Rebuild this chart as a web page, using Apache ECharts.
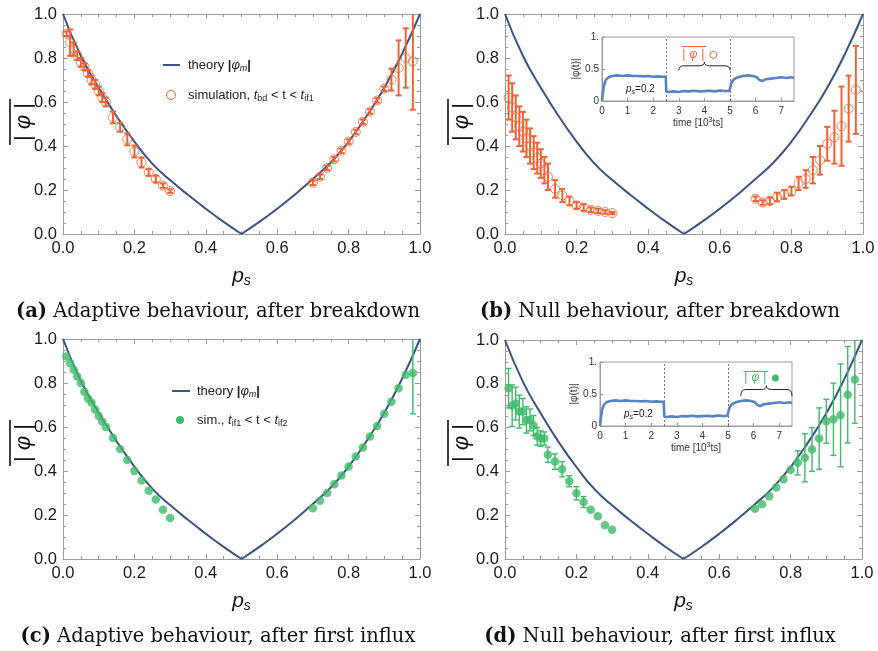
<!DOCTYPE html>
<html>
<head>
<meta charset="utf-8">
<script src="https://cdn.jsdelivr.net/npm/echarts@6/dist/echarts.min.js"></script>
<style>
html, body { margin: 0; background: #fff; }
#main { width: 878px; height: 651px; }
</style>
</head>
<body>
<div id="main"></div>
<script>
// ---- data ----
var psLeft = [0.01, 0.02, 0.03, 0.04, 0.05, 0.06, 0.07, 0.08, 0.09, 0.10, 0.11, 0.12,
  0.14, 0.16, 0.18, 0.20, 0.22, 0.24, 0.26, 0.28, 0.30];
var psRight = [0.70, 0.72, 0.74, 0.76, 0.78, 0.80, 0.82, 0.84, 0.86, 0.88, 0.90, 0.92, 0.94, 0.96, 0.98];

// theory |phi_m| vs p_s
var theoryPs = [0, 0.05, 0.10, 0.15, 0.20, 0.25, 0.30, 0.35, 0.40, 0.45, 0.50,
  0.55, 0.60, 0.65, 0.70, 0.75, 0.80, 0.85, 0.90, 0.95, 1.0];
var theoryPhi = [1.0, 0.81, 0.665, 0.535, 0.42, 0.32, 0.245, 0.178, 0.115, 0.055, 0,
  0.055, 0.115, 0.18, 0.25, 0.325, 0.42, 0.535, 0.665, 0.82, 1.0];

// (a) adaptive, after breakdown
var aLeft = [0.91, 0.87, 0.84, 0.81, 0.78, 0.76, 0.73, 0.70, 0.68, 0.65, 0.62, 0.60,
  0.53, 0.485, 0.43, 0.375, 0.325, 0.28, 0.25, 0.22, 0.195];
var aLeftErr = [0.01, 0.06, 0.03, 0.02, 0.02, 0.015, 0.015, 0.02, 0.02, 0.02, 0.02, 0.02,
  0.027, 0.02, 0.027, 0.027, 0.023, 0.015, 0.015, 0.01, 0.008];
var aRight = [0.233, 0.26, 0.30, 0.34, 0.378, 0.42, 0.464, 0.51, 0.557, 0.607, 0.66, 0.702, 0.755, 0.80, 0.785];
var aRightErr = [0.01, 0.01, 0.01, 0.01, 0.01, 0.01, 0.01, 0.01, 0.01, 0.01, 0.01, 0.05, 0.125, 0.135, 0.22];

// (b) null, after breakdown
var bLeft = [0.62, 0.575, 0.53, 0.49, 0.465, 0.435, 0.40, 0.37, 0.345, 0.32, 0.29, 0.26,
  0.205, 0.175, 0.15, 0.13, 0.12, 0.11, 0.105, 0.10, 0.095];
var bLeftErr = [0.1, 0.11, 0.1, 0.09, 0.09, 0.085, 0.08, 0.075, 0.07, 0.065, 0.06, 0.06,
  0.04, 0.03, 0.02, 0.015, 0.015, 0.01, 0.01, 0.008, 0.005];
var bRight = [0.16, 0.143, 0.15, 0.168, 0.18, 0.195, 0.23, 0.25, 0.29, 0.335, 0.41, 0.44, 0.49, 0.57, 0.655];
var bRightErr = [0.01, 0.01, 0.015, 0.02, 0.02, 0.02, 0.03, 0.04, 0.06, 0.065, 0.077, 0.12, 0.18, 0.15, 0.2];

// (c) adaptive, after first influx
var cLeft = [0.92, 0.89, 0.86, 0.83, 0.80, 0.76, 0.73, 0.71, 0.68, 0.65, 0.625, 0.60,
  0.55, 0.50, 0.45, 0.40, 0.357, 0.31, 0.27, 0.224, 0.186];
var cLeftErr = [0, 0, 0, 0, 0, 0, 0, 0, 0, 0, 0, 0, 0, 0, 0, 0, 0, 0, 0, 0, 0];
var cRight = [0.231, 0.265, 0.30, 0.34, 0.38, 0.42, 0.466, 0.507, 0.557, 0.605, 0.66, 0.715, 0.776, 0.837, 0.845];
var cRightErr = [0, 0, 0, 0, 0, 0, 0, 0, 0, 0, 0, 0, 0, 0, 0.185];

// (d) null, after first influx
var dLeft = [0.78, 0.70, 0.71, 0.673, 0.673, 0.635, 0.635, 0.61, 0.56, 0.55, 0.55, 0.476,
  0.445, 0.41, 0.355, 0.30, 0.26, 0.225, 0.195, 0.154, 0.134];
var dLeftErr = [0.09, 0.095, 0.075, 0.075, 0.06, 0.06, 0.05, 0.045, 0.04, 0.035, 0.03, 0.035,
  0.035, 0.035, 0.025, 0.03, 0.025, 0, 0, 0, 0];
var dRight = [0.23, 0.25, 0.287, 0.326, 0.364, 0.408, 0.439, 0.462, 0.50, 0.55, 0.629, 0.638, 0.656, 0.75, 0.82];
var dRightErr = [0, 0, 0, 0, 0, 0, 0.055, 0.11, 0.1, 0.14, 0.1, 0.165, 0.235, 0.22, 0.2];

// inset: |phi(t)| for p_s = 0.2, time in 10^3 ts
var insetTime = [0, 0.03, 0.08, 0.15, 0.25, 0.4, 0.6, 0.8, 1.0, 1.2, 1.4, 1.6, 1.8, 2.0, 2.2, 2.4, 2.49,
  2.51, 2.6, 2.8, 3.0, 3.2, 3.4, 3.6, 3.8, 4.0, 4.2, 4.4, 4.6, 4.8, 4.98,
  5.0, 5.05, 5.15, 5.3, 5.5, 5.7, 5.9, 6.05, 6.15, 6.25, 6.4, 6.6, 6.8, 7.0, 7.2, 7.4, 7.5];
var insetPhi = [0, 0.12, 0.25, 0.33, 0.37, 0.39, 0.40, 0.39, 0.40, 0.39, 0.39, 0.385, 0.39, 0.38, 0.385, 0.38, 0.38,
  0.15, 0.14, 0.15, 0.14, 0.155, 0.15, 0.16, 0.15, 0.155, 0.16, 0.15, 0.165, 0.155, 0.16,
  0.2, 0.28, 0.34, 0.37, 0.39, 0.40, 0.39, 0.37, 0.33, 0.31, 0.34, 0.35, 0.36, 0.37, 0.36, 0.37, 0.36];
var insetSwitch = [2.5, 5.0];
// brace: [from, to, base, flat, tip]
var braceB = [3.0, 5.0, 0.48, 0.55, 0.61];
var braceD = [5.5, 7.5, 0.47, 0.57, 0.63];

var captionTags = ['(a)', '(b)', '(c)', '(d)'];
var captionTexts = ['Adaptive behaviour, after breakdown', 'Null behaviour, after breakdown',
  'Adaptive behaviour, after first influx', 'Null behaviour, after first influx'];

// ---- styles ----
var ORANGE = '#ec6435';
var GREEN = '#3fba69';
var NAVY = '#3a5384';
var TRACE = '#5a82c3';
var FRAME = '#9b9b9b';
var SANS = 'Liberation Sans';
var SERIF = 'DejaVu Serif';

var panels = [
  {grid: {left: 63, top: 14, width: 357, height: 220}, left: aLeft, leftErr: aLeftErr, right: aRight, rightErr: aRightErr,
    color: ORANGE, hollow: true, cap: [218, 312], ylab: [24, 122]},
  {grid: {left: 505, top: 14, width: 358, height: 220}, left: bLeft, leftErr: bLeftErr, right: bRight, rightErr: bRightErr,
    color: ORANGE, hollow: true, cap: [660, 312], ylab: [462, 122]},
  {grid: {left: 63, top: 339, width: 357, height: 220}, left: cLeft, leftErr: cLeftErr, right: cRight, rightErr: cRightErr,
    color: GREEN, hollow: false, cap: [218, 637], ylab: [24, 443]},
  {grid: {left: 505, top: 340, width: 357, height: 219}, left: dLeft, leftErr: dLeftErr, right: dRight, rightErr: dRightErr,
    color: GREEN, hollow: false, cap: [660, 637], ylab: [462, 443]}
];

function frameAxis(grid, pos, labels) {
  return {
    type: 'value', gridIndex: grid, position: pos, min: 0, max: 1, interval: 0.2,
    axisLine: {show: true, onZero: false, lineStyle: {color: FRAME, width: 1}},
    axisTick: {show: true, inside: true, length: 5, lineStyle: {color: FRAME}},
    minorTick: {show: true, splitNumber: 4, length: 3, lineStyle: {color: FRAME}},
    splitLine: {show: false},
    axisLabel: {show: labels, margin: 6, color: '#1a1a1a', fontSize: 16.5, fontFamily: SANS,
      formatter: function (v) { return v.toFixed(1); }}
  };
}

function points(ps, vals, errs) {
  return ps.map(function (x, k) { return [x, vals[k], errs[k]]; });
}

function errorBars(color, width) {
  return function (params, api) {
    var e = api.value(2);
    if (!e) return;
    var x = api.value(0), y = api.value(1);
    var top = api.coord([x, y + e]), bot = api.coord([x, y - e]);
    var st = {stroke: color, lineWidth: width};
    return {type: 'group', children: [
      {type: 'line', shape: {x1: top[0], y1: top[1], x2: bot[0], y2: bot[1]}, style: st},
      {type: 'line', shape: {x1: top[0] - 3, y1: top[1], x2: top[0] + 3, y2: top[1]}, style: st},
      {type: 'line', shape: {x1: bot[0] - 3, y1: bot[1], x2: bot[0] + 3, y2: bot[1]}, style: st}
    ]};
  };
}

var option = {
  animation: false,
  backgroundColor: '#fff',
  grid: [], xAxis: [], yAxis: [], series: [], graphic: []
};

var theoryLeft = [], theoryRight = [];
theoryPs.forEach(function (x, k) {
  if (x <= 0.5) theoryLeft.push([x, theoryPhi[k]]);
  if (x >= 0.5) theoryRight.push([x, theoryPhi[k]]);
});

panels.forEach(function (p, i) {
  var g = Object.assign({outerBoundsMode: 'none'}, p.grid);
  option.grid.push(g);
  var xb = frameAxis(i, 'bottom', true);
  xb.name = '{p|p}{s|s}';
  xb.nameLocation = 'middle';
  xb.nameGap = 30;
  xb.nameTextStyle = {color: '#111', rich: {
    p: {fontSize: 21, fontStyle: 'italic', fontFamily: SANS, color: '#111'},
    s: {fontSize: 14, fontStyle: 'italic', fontFamily: SANS, color: '#111', padding: [10, 0, 0, 0]}
  }};
  option.xAxis.push(xb, frameAxis(i, 'top', false));
  option.yAxis.push(frameAxis(i, 'left', true), frameAxis(i, 'right', false));
  var ax = {xAxisIndex: 2 * i, yAxisIndex: 2 * i};

  [theoryLeft, theoryRight].forEach(function (half) {
    option.series.push(Object.assign({
      type: 'line', data: half, smooth: 0.5, showSymbol: false, z: 3,
      lineStyle: {color: NAVY, width: 2}
    }, ax));
  });

  var sim = points(psLeft, p.left, p.leftErr).concat(points(psRight, p.right, p.rightErr));
  option.series.push(Object.assign({
    type: 'scatter', data: sim, symbol: 'circle', symbolSize: p.hollow ? 9 : 8.5, z: 4,
    itemStyle: p.hollow ? {color: 'rgba(255,255,255,0)', borderColor: p.color, borderWidth: 1}
      : {color: p.color}
  }, ax));
  option.series.push(Object.assign({
    type: 'custom', data: sim, clip: true, z: 5,
    encode: {x: 0, y: 1},
    renderItem: errorBars(p.color, p.hollow ? 2 : 1.4)
  }, ax));

  // caption
  option.graphic.push({
    type: 'text', x: p.cap[0], y: p.cap[1],
    style: {
      text: '{b|' + captionTags[i] + '} ' + captionTexts[i],
      align: 'center', verticalAlign: 'middle', fill: '#111', fontFamily: SERIF, fontSize: 19.5,
      rich: {b: {fontWeight: 'bold', fontFamily: SERIF, fontSize: 19.5, fill: '#111'}}
    }
  });
  // y label |phi| with overline, rotated
  option.graphic.push({
    type: 'group', x: p.ylab[0], y: p.ylab[1], rotation: Math.PI / 2,
    children: [
      {type: 'text', style: {text: '{b||}{i|φ}{b||}', align: 'center', verticalAlign: 'middle',
        fill: '#111', fontFamily: SANS, fontSize: 22,
        rich: {
          b: {fontFamily: SANS, fontSize: 22, fill: '#111', padding: [0, 6, 0, 6]},
          i: {fontFamily: SANS, fontSize: 22, fontStyle: 'italic', fill: '#111'}
        }}},
      {type: 'line', shape: {x1: -23, y1: -14, x2: 23, y2: -14}, style: {stroke: '#111', lineWidth: 1.6}}
    ]
  });
});

// ---- insets in (b) and (d) ----
var insets = [
  {grid: {left: 602, top: 37, width: 192, height: 64}, brace: braceB, label: [4.0, 0.72, 0.85], color: ORANGE, hollow: true},
  {grid: {left: 600, top: 362, width: 192, height: 64}, brace: braceD, label: [6.5, 0.75, 0.85], color: GREEN, hollow: false}
];
var trace = insetTime.map(function (t, k) { return [t, insetPhi[k]]; });

insets.forEach(function (s, j) {
  var gi = 4 + j;
  option.grid.push(Object.assign({outerBoundsMode: 'none', show: true, borderColor: FRAME, borderWidth: 1,
    backgroundColor: '#fff'}, s.grid));
  option.xAxis.push({
    type: 'value', gridIndex: gi, min: 0, max: 7.5, interval: 1,
    axisLine: {show: true, onZero: false, lineStyle: {color: FRAME}},
    axisTick: {show: true, inside: true, length: 3, lineStyle: {color: FRAME}},
    splitLine: {show: false},
    axisLabel: {margin: 5, fontSize: 10, color: '#333', fontFamily: SANS, showMaxLabel: false},
    name: 'time [10{u|3}ts]', nameLocation: 'middle', nameGap: 14,
    nameTextStyle: {fontSize: 10, color: '#333', fontFamily: SANS,
      rich: {u: {fontSize: 7, fontFamily: SANS, color: '#333', padding: [0, 0, 6, 0]}}}
  });
  option.yAxis.push({
    type: 'value', gridIndex: gi, min: 0, max: 1, interval: 0.5,
    axisLine: {show: true, onZero: false, lineStyle: {color: FRAME}},
    axisTick: {show: true, inside: true, length: 3, lineStyle: {color: FRAME}},
    splitLine: {show: false},
    axisLabel: {margin: 3, fontSize: 10, color: '#333', fontFamily: SANS,
      formatter: function (v) { return v === 1 ? '1.' : (v === 0 ? '0' : String(v)); }},
    name: '|φ(t)|', nameLocation: 'middle', nameGap: 20, nameRotate: 90,
    nameTextStyle: {fontSize: 10, color: '#333', fontFamily: SANS}
  });
  var ax = {xAxisIndex: 8 + j, yAxisIndex: 8 + j};

  option.series.push(Object.assign({
    type: 'line', data: trace, showSymbol: false, z: 6,
    lineStyle: {color: TRACE, width: 2.6},
    markLine: {silent: true, symbol: 'none', label: {show: false},
      lineStyle: {type: [2, 2], color: '#555', width: 0.8},
      data: insetSwitch.map(function (t) { return {xAxis: t}; })}
  }, ax));

  // p_s = 0.2 note
  option.series.push(Object.assign({
    type: 'custom', data: [[1.5, 0.18]], z: 7, encode: {x: 0, y: 1},
    renderItem: function (params, api) {
      var c = api.coord([api.value(0), api.value(1)]);
      return {type: 'text', x: c[0], y: c[1], style: {
        text: '{i|p}{s|s}=0.2', align: 'center', verticalAlign: 'middle', fill: '#222',
        fontFamily: SANS, fontSize: 10,
        rich: {i: {fontStyle: 'italic', fontFamily: SANS, fontSize: 10, fill: '#222'},
          s: {fontStyle: 'italic', fontFamily: SANS, fontSize: 7, fill: '#222', padding: [5, 0, 0, 0]}}
      }};
    }
  }, ax));

  // curly brace over the averaging window
  option.series.push(Object.assign({
    type: 'custom', data: [s.brace], z: 7, encode: {x: [0, 1], y: [2, 3, 4]},
    renderItem: function (params, api) {
      var x1 = api.value(0), x2 = api.value(1);
      var L = api.coord([x1, api.value(2)]), R = api.coord([x2, api.value(2)]);
      var F = api.coord([x1, api.value(3)]), T = api.coord([(x1 + x2) / 2, api.value(4)]);
      var l = L[0], r = R[0], m = T[0], b = L[1], f = F[1], t = T[1], k = 5;
      var d = 'M' + l + ',' + b + ' Q' + l + ',' + f + ' ' + (l + k) + ',' + f +
        ' L' + (m - k) + ',' + f + ' Q' + m + ',' + f + ' ' + m + ',' + t +
        ' Q' + m + ',' + f + ' ' + (m + k) + ',' + f +
        ' L' + (r - k) + ',' + f + ' Q' + r + ',' + f + ' ' + r + ',' + b;
      return {type: 'path', shape: {pathData: d}, style: {stroke: '#222', fill: 'none', lineWidth: 1}};
    }
  }, ax));

  // overlined |phi| with its marker
  option.series.push(Object.assign({
    type: 'custom', data: [s.label], z: 7, encode: {x: 0, y: [1, 2]},
    renderItem: function (params, api) {
      var c = api.coord([api.value(0), api.value(1)]);
      var o = api.coord([api.value(0), api.value(2)]);
      return {type: 'group', children: [
        {type: 'text', x: c[0] - 11, y: c[1], style: {
          text: '|{i|φ}|', align: 'center', verticalAlign: 'middle', fill: s.color,
          fontFamily: SANS, fontSize: 12,
          rich: {i: {fontStyle: 'italic', fontFamily: SANS, fontSize: 12, fill: s.color, padding: [0, 4, 0, 4]}}
        }},
        {type: 'line', shape: {x1: c[0] - 23, y1: o[1], x2: c[0] + 2, y2: o[1]}, style: {stroke: s.color, lineWidth: 1}},
        {type: 'circle', shape: {cx: c[0] + 9, cy: c[1], r: 3.5},
          style: s.hollow ? {fill: 'none', stroke: s.color, lineWidth: 1} : {fill: s.color}}
      ]};
    }
  }, ax));
});

// ---- legends of (a) and (c) ----
function legendText(x, y, text) {
  return {type: 'text', x: x, y: y, style: {
    text: text, verticalAlign: 'middle', fill: '#222', fontFamily: SANS, fontSize: 13,
    rich: {
      b: {fontFamily: SANS, fontSize: 13, fontWeight: 'bold', fill: '#222'},
      i: {fontFamily: SANS, fontSize: 13, fontStyle: 'italic', fill: '#222'},
      m: {fontFamily: SANS, fontSize: 9, fontStyle: 'italic', fill: '#222', padding: [7, 0, 0, 0]},
      s: {fontFamily: SANS, fontSize: 9, fill: '#222', padding: [7, 0, 0, 0]}
    }
  }};
}
var theoryLabel = 'theory {b||}{i|φ}{m|m}{b||}';
option.graphic.push(
  {type: 'line', shape: {x1: 163, y1: 65, x2: 180, y2: 65}, style: {stroke: NAVY, lineWidth: 2}},
  legendText(188, 65, theoryLabel),
  {type: 'circle', shape: {cx: 171, cy: 95, r: 4.5}, style: {fill: 'none', stroke: ORANGE, lineWidth: 1}},
  legendText(188, 95, 'simulation, {i|t}{s|bd} < t < {i|t}{s|if1}'),
  {type: 'line', shape: {x1: 172, y1: 391, x2: 190, y2: 391}, style: {stroke: NAVY, lineWidth: 2}},
  legendText(197, 391, theoryLabel),
  {type: 'circle', shape: {cx: 180, cy: 420, r: 4}, style: {fill: GREEN}},
  legendText(197, 420, 'sim., {i|t}{s|if1} < t < {i|t}{s|if2}')
);

var chart = echarts.init(document.getElementById('main'));
chart.setOption(option);
</script>
</body>
</html>
